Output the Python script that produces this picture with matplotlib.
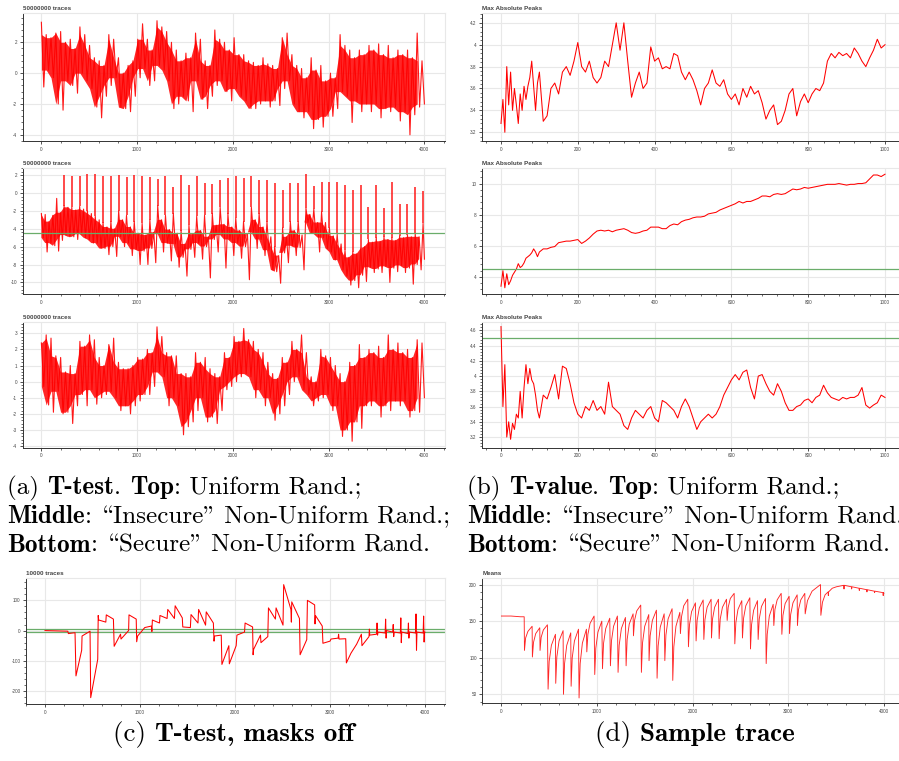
import numpy as np
import matplotlib
matplotlib.use('Agg')
import matplotlib.pyplot as plt
from matplotlib.ticker import MultipleLocator

plt.rcParams['axes.unicode_minus'] = False

# ---------------- data ----------------
# (a) top: zigzag samples (up/down alternating), 160 samples over 0..4000
a_top = [3.3, -0.9, 2.5, 0.2, 2.3, -0.3, 2.6, -2.0, 2.7, -2.4, 2.0, -0.5, 2.2, -0.8, 1.6, -1.3,
         3.0, 0.0, 2.5, -0.5, 1.8, -1.0, 1.0, -2.2, 0.8, -2.9, 0.5, -1.5, 2.5, -0.8, 2.2, -0.3,
         1.0, -2.2, 0.0, -2.3, 0.5, -2.5, 0.8, -1.5, 2.2, -0.3, 3.2, 0.3, 2.2, -0.8, 1.5, -0.5,
         3.4, 0.5, 3.0, 0.2, 2.7, -0.5, 2.0, -2.3, 1.5, -2.0, 0.8, -1.5, 1.3, -1.8, 1.0, -2.5,
         2.6, -0.5, 2.2, -1.7, 0.8, -2.3, 0.5, -1.5, 2.8, -0.8, 2.2, -0.5, 2.0, -1.2, 1.5, -1.8,
         2.3, -1.0, 1.2, -1.5, 1.2, -1.8, 0.8, -2.3, 0.7, -2.3, 0.5, -2.0, 1.0, -1.8, 0.6, -2.2,
         0.5, -1.8, 0.3, -2.1, 2.3, -1.0, 2.6, -0.5, 1.2, -2.0, 0.5, -2.5, 0.3, -2.9, -0.3, -2.5,
         1.0, -3.6, 0.2, -3.0, 0.5, -3.5, -0.5, -2.8, 0.0, -2.8, -0.3, -2.3, 2.5, -1.2, 1.8, -1.5,
         1.5, -3.2, 1.0, -1.8, 1.5, -2.5, 1.2, -2.0, 1.8, -2.5, 1.5, -2.0, 1.9, -2.9, 1.2, -2.3,
         1.8, -2.5, 1.0, -2.2, 1.5, -3.1, 1.2, -2.5, 1.5, -4.0, 1.0, -2.7, 2.6, -2.2, 0.8, -2.0]

# (a) middle: noisy start, spikes, and 4 band samples per spike interval
am_pre = [-2.3, -5.0, -2.4, -6.6, -3.2, -5.6, -2.5, -5.9, -0.6, -6.5, -2.2, -5.3]
am_spike_x = [237, 318, 400, 481, 563, 644, 726, 807, 889, 970, 1052, 1133, 1215, 1296, 1378,
              1459, 1541, 1622, 1704, 1785, 1867, 1948, 2030, 2111, 2193, 2274, 2356, 2437,
              2519, 2600, 2682, 2763, 2845, 2926, 3008, 3089, 3171, 3252, 3334, 3415, 3497,
              3578, 3660, 3741, 3823, 3904, 3986]
am_spike_top = [2.0, 1.85, 1.85, 2.1, 2.1, 1.85, 1.85, 2.0, 1.75, 2.0, 1.85, 1.75, 1.6, 1.85,
                0.65, 2.0, 0.85, 1.95, 1.1, 1.0, 1.5, 1.66, 1.85, 1.66, 1.93, 1.48, 1.48, 1.1,
                0.36, 1.1, 1.1, 2.1, 0.8, 1.18, 1.18, 1.18, 0.92, 0.3, 0.92, -1.6, 0.92, -1.7,
                1.18, -1.25, -1.25, 0.66, 0.25]
am_band = [[-1.4, -4.7, -1.6, -4.9], [-1.6, -4.9, -1.9, -5.2], [-1.5, -4.6, -1.8, -5.0],
           [-2.0, -5.2, -2.3, -5.6], [-2.6, -5.6, -3.0, -6.2], [-3.3, -6.2, -3.8, -6.9],
           [-3.2, -6.0, -4.0, -7.1], [-2.0, -4.9, -3.0, -6.0], [-2.5, -5.6, -3.8, -7.0],
           [-3.2, -6.3, -4.5, -8.0], [-3.4, -6.5, -4.7, -8.0], [-3.0, -6.2, -4.4, -7.8],
           [-1.4, -4.6, -3.0, -6.6], [-2.5, -5.6, -4.1, -7.6], [-2.3, -5.7, -4.5, -8.3],
           [-4.2, -7.2, -5.7, -9.3], [-3.6, -6.3, -4.6, -7.2], [-2.6, -5.6, -4.2, -7.4],
           [-2.5, -6.0, -4.9, -9.5], [-2.3, -5.2, -3.6, -6.6], [-1.6, -4.7, -3.5, -8.4],
           [-2.3, -5.2, -3.8, -7.0], [-2.8, -5.6, -4.2, -7.3], [-3.2, -6.0, -4.6, -9.7],
           [-1.6, -4.4, -3.0, -6.2], [-2.3, -5.2, -3.8, -7.0], [-3.2, -6.4, -4.9, -8.6],
           [-6.0, -8.8, -7.0, -10.1], [-3.9, -6.7, -4.9, -7.8], [-3.2, -5.9, -4.2, -7.0],
           [-3.2, -6.1, -4.7, -8.6], [-1.7, -3.3, -2.4, -4.5], [-1.8, -4.6, -3.3, -6.6],
           [-2.1, -5.0, -3.3, -6.2], [-3.9, -6.6, -4.8, -7.5], [-4.6, -7.5, -5.7, -8.6],
           [-6.4, -9.3, -7.2, -10.3], [-6.6, -9.8, -6.8, -10.6], [-6.2, -9.2, -6.0, -9.9],
           [-5.2, -8.3, -5.5, -8.9], [-5.0, -8.5, -5.4, -8.9], [-4.9, -8.2, -5.2, -10.0],
           [-5.0, -8.4, -5.3, -8.8], [-4.8, -8.1, -5.0, -8.9], [-4.7, -8.4, -4.9, -10.2],
           [-4.5, -8.0, -4.9, -8.6]]
am_tail = [-3.4, -7.4]
am_threshold = -4.5

# (a) bottom
a_bot = [2.4, -0.3, 2.9, -1.45, 2.7, -1.9, 1.6, -0.6, 1.5, -2.0, 0.6, -1.9, 1.0, -2.6, 0.5, -1.5,
         2.5, -0.8, 2.2, -1.5, 2.9, -0.5, 2.6, -1.4, 1.5, -1.0, 1.0, -0.8, 2.3, -0.6, 2.7, -1.0,
         1.2, -1.8, 0.8, -1.5, 0.8, -2.0, 1.0, -1.5, 1.5, -1.2, 1.4, -0.8, 2.0, -0.8, 1.8, -0.3,
         3.4, 0.6, 2.8, 0.3, 1.8, -1.5, 1.6, -1.0, 1.6, -1.5, 0.5, -3.3, 0.5, -2.8, 0.3, -2.5,
         1.8, -1.8, 1.2, -1.0, 1.5, -2.5, 0.8, -2.2, 0.5, -2.6, 0.3, -1.8, 1.8, -0.5, 1.5, -0.3,
         2.8, 0.0, 2.5, 0.3, 3.3, 0.5, 2.6, 0.3, 2.5, -1.0, 2.0, -0.5, 1.8, -1.5, 1.2, -1.0,
         0.5, -2.4, 0.2, -2.0, 1.5, -1.5, 1.2, -0.8, 2.5, 0.0, 2.0, 0.3, 2.9, -0.5, 1.8, -0.8,
         0.3, -1.5, 0.0, -1.2, 2.0, -1.0, 1.6, -0.8, 1.5, -1.8, 1.0, -1.5, 0.5, -3.4, 0.0, -3.0,
         1.2, -3.7, 1.0, -2.5, 2.3, -2.9, 1.5, -1.5, 2.0, -1.5, 1.8, -1.2, 2.2, -2.2, 1.5, -1.5,
         2.9, -1.8, 2.0, -1.2, 2.4, -1.5, 1.8, -1.2, 2.0, -2.2, 1.5, -1.8, 2.6, -1.9, 2.4, -1.0]

# (b) T-value, x: every 5 up to 95, then every 10 up to 1000
b_top = [3.28, 3.5, 3.2, 3.8, 3.45, 3.75, 3.4, 3.6, 3.45, 3.28, 3.55, 3.4, 3.62, 3.5, 3.62, 3.7,
         3.85, 3.62, 3.4, 3.65,
         3.75, 3.3, 3.35, 3.6, 3.65, 3.55, 3.75, 3.8, 3.72, 3.85,
         4.02, 3.8, 3.75, 3.85, 3.7, 3.65, 3.7, 3.85, 3.8, 4.0,
         4.2, 3.95, 4.2, 3.85, 3.52, 3.65, 3.75, 3.6, 3.65, 3.98,
         3.85, 3.88, 3.78, 3.8, 3.78, 3.92, 3.9, 3.75, 3.68, 3.75,
         3.68, 3.58, 3.45, 3.6, 3.65, 3.77, 3.65, 3.62, 3.68, 3.55,
         3.5, 3.55, 3.45, 3.6, 3.52, 3.62, 3.55, 3.58, 3.47, 3.32,
         3.4, 3.45, 3.27, 3.3, 3.4, 3.55, 3.6, 3.35, 3.48, 3.55,
         3.47, 3.55, 3.6, 3.58, 3.65, 3.85, 3.92, 3.88, 3.93, 3.9,
         3.92, 3.88, 3.97, 3.92, 3.85, 3.8, 3.88, 3.95, 4.05, 3.97,
         4.0]
b_mid = [3.4, 4.4, 3.3, 4.2, 3.5, 3.75, 4.1, 4.3, 4.5, 4.85, 4.6, 4.7, 4.9, 5.2, 5.3, 5.4,
         5.55, 5.8, 5.6, 5.3,
         5.6, 5.8, 5.8, 5.9, 5.95, 6.2, 6.25, 6.3, 6.3, 6.35,
         6.4, 6.15, 6.3, 6.5, 6.75, 6.95, 7.0, 6.95, 7.0, 6.9,
         7.0, 7.05, 7.1, 7.0, 6.85, 6.8, 6.85, 6.95, 7.0, 7.2,
         7.2, 7.2, 7.1, 7.1, 7.3, 7.4, 7.35, 7.55, 7.65, 7.7,
         7.8, 7.85, 7.85, 7.9, 8.05, 8.1, 8.15, 8.3, 8.4, 8.5,
         8.6, 8.7, 8.85, 8.75, 8.85, 8.85, 8.95, 9.05, 9.2, 9.2,
         9.15, 9.3, 9.35, 9.3, 9.35, 9.5, 9.65, 9.6, 9.65, 9.75,
         9.7, 9.75, 9.8, 9.85, 9.9, 9.95, 9.95, 9.95, 10.0, 9.95,
         9.9, 9.95, 9.95, 10.0, 10.0, 10.05, 10.3, 10.55, 10.55, 10.45,
         10.6]
b_bot = [4.65, 3.6, 4.15, 3.2, 3.4, 3.17, 3.38, 3.3, 3.5, 3.45, 3.8, 3.45, 3.85, 4.15, 3.9, 4.1,
         3.95, 3.9, 3.75, 3.55,
         3.45, 3.75, 3.7, 3.85, 4.02, 3.7, 4.13, 4.1, 3.9, 3.65,
         3.5, 3.45, 3.6, 3.55, 3.68, 3.55, 3.6, 3.5, 3.92, 3.6,
         3.55, 3.5, 3.35, 3.3, 3.45, 3.55, 3.5, 3.45, 3.55, 3.6,
         3.45, 3.4, 3.68, 3.65, 3.6, 3.55, 3.45, 3.6, 3.7, 3.6,
         3.45, 3.3, 3.4, 3.45, 3.5, 3.45, 3.5, 3.6, 3.75, 3.85,
         3.95, 4.02, 3.95, 4.05, 4.08, 3.85, 3.7, 4.0, 4.02, 3.9,
         3.8, 3.75, 3.9, 3.8, 3.65, 3.55, 3.55, 3.6, 3.62, 3.68,
         3.7, 3.65, 3.72, 3.75, 3.88, 3.78, 3.72, 3.7, 3.68, 3.72,
         3.7, 3.72, 3.72, 3.75, 3.85, 3.62, 3.58, 3.62, 3.65, 3.75,
         3.72]
b_threshold = 4.5

# (c) T-test, masks off: line vertices
c_x = [0, 240, 246, 316, 326, 386, 390, 474, 481, 555, 560, 565, 640, 645, 720, 728, 795, 800,
       880, 884, 960, 965, 975, 1050, 1120, 1125, 1130, 1205, 1210, 1285, 1292, 1362, 1370,
       1445, 1450, 1530, 1537, 1610, 1617, 1690, 1697, 1772, 1779, 1785, 1855, 1862, 1935,
       1940, 2012, 2020, 2100, 2106, 2185, 2190, 2196, 2268, 2273, 2345, 2352, 2425, 2432,
       2505, 2512, 2588, 2593, 2597, 2678, 2685, 2755, 2762, 2838, 2842, 2846, 2918, 2925,
       3000, 3010, 3085, 3090, 3095, 3165, 3172, 3220, 3280, 3330, 3336, 3410, 3414, 3418,
       3490, 3495, 3500, 3505, 3580, 3585, 3590, 3595, 3660, 3665, 3670, 3675, 3740, 3745,
       3750, 3755, 3820, 3825, 3830, 3835, 3900, 3905, 3910, 3915, 3980, 3985, 3990, 3995, 4000]
c_y = [0, -2, -10, -7, -150, -65, -18, -2, -222, -95, 50, 35, 28, 52, 38, -52, -12, -28, 0, 52,
       38, -37, -18, 10, 15, -3, 35, 25, 50, 40, 70, 40, 82, 42, 12, 10, 53, 25, 70, 18,
       62, 25, -35, -18, -15, -112, -50, -110, -50, -15, -5, 25, 12, -80, -62, -15, -40, -20,
       75, 38, 75, 18, 152, 70, 28, 95, 40, -80, -30, 100, 85, 22, 50, 15, -42, -35, -28, -25,
       -12, -28, -27, -107, -75, -45, -12, -50, -20, 5, -15, -12, 25, -15, -5, -8, 38, -25, 0,
       -5, 20, -20, -5, -8, 42, -40, -5, -10, 25, -25, -5, -8, 55, -65, -5, -8, 48, -38, -5, -5]
c_thresholds = [4.5, -4.5]

# (d) Sample trace (means): flat head, sawtooth teeth [drop_x, top_x, low, mid1, mid2, top], tail
d_head_x = [0, 100, 200, 238]
d_head_y = [157, 157, 156, 156]
d_teeth = [
    [241, 321, 110, 127, 136, 143], [324, 401, 101, 121, 133, 141], [404, 481, 110, 128, 138, 145],
    [488, 565, 57, 95, 117, 132], [568, 645, 65, 101, 123, 137], [649, 725, 50, 92, 117, 134],
    [729, 806, 61, 100, 123, 139], [812, 889, 45, 92, 120, 139], [893, 969, 108, 132, 147, 157],
    [976, 1050, 77, 113, 135, 150], [1057, 1133, 85, 120, 140, 154], [1140, 1213, 89, 123, 143, 157],
    [1220, 1297, 80, 117, 140, 155], [1304, 1377, 89, 125, 146, 160], [1381, 1457, 130, 151, 164, 172],
    [1464, 1541, 80, 120, 143, 159], [1544, 1621, 96, 130, 151, 165], [1628, 1702, 72, 116, 142, 160],
    [1709, 1785, 96, 131, 153, 167], [1792, 1866, 69, 115, 143, 162], [1872, 1949, 133, 156, 171, 180],
    [1956, 2029, 115, 145, 163, 175], [2036, 2110, 123, 151, 168, 179], [2117, 2193, 125, 152, 169, 180],
    [2197, 2270, 127, 153, 169, 180], [2277, 2354, 126, 153, 169, 180], [2361, 2434, 151, 169, 181, 188],
    [2441, 2514, 119, 148, 166, 178], [2521, 2598, 127, 154, 171, 182], [2605, 2678, 112, 145, 165, 178],
    [2685, 2762, 125, 153, 170, 181], [2769, 2842, 92, 132, 157, 173], [2849, 2926, 144, 166, 179, 188],
    [2933, 3009, 132, 158, 174, 184], [3013, 3093, 133, 159, 175, 186], [3096, 3173, 144, 166, 179, 188],
    [3177, 3337, 160, 178, 191, 200]]
d_tail_x = [3341, 3358, 3385, 3417, 3419, 3422, 3460, 3504, 3580, 3583, 3586, 3660, 3663, 3666,
            3740, 3743, 3746, 3820, 3823, 3826, 3900, 3903, 3906, 3990, 3993, 3996, 4000]
d_tail_y = [158, 176, 186, 190, 185, 190, 195, 197, 199, 194, 199, 197, 194, 197,
            195, 192, 195, 193, 190, 193, 191, 189, 191, 189, 185, 189, 188]

titles_a = "50000000 traces"
title_b = "Max Absolute Peaks"
title_c = "10000 traces"
title_d = "Means"

# ---------------- figure ----------------
W, H = 899, 761
fig = plt.figure(figsize=(W / 100, H / 100), dpi=100)

RED = '#ff0000'
GREEN = '#6aad6a'
GRID = '#e8e8e8'
AXC = '#333333'
TICKFONT = 'Liberation Sans'


def add_ax(x0, x1, yt, yb):
    return fig.add_axes([x0 / W, 1 - yb / H, (x1 - x0) / W, (yb - yt) / H])


def style(ax, xlim, ylim, xmaj, xmin, ymaj, ymin, title, yfmt=None):
    ax.set_xlim(*xlim)
    ax.set_ylim(*ylim)
    ax.xaxis.set_major_locator(MultipleLocator(xmaj))
    ax.xaxis.set_minor_locator(MultipleLocator(xmin))
    ax.yaxis.set_major_locator(MultipleLocator(ymaj))
    ax.yaxis.set_minor_locator(MultipleLocator(ymin))
    if yfmt is not None:
        ax.yaxis.set_major_formatter(yfmt)
    ax.grid(True, which='major', color=GRID, lw=0.8)
    ax.set_axisbelow(True)
    for s in ['top', 'right']:
        ax.spines[s].set_color(GRID)
        ax.spines[s].set_linewidth(0.8)
    for s in ['left', 'bottom']:
        ax.spines[s].set_color(AXC)
        ax.spines[s].set_linewidth(0.7)
    ax.tick_params(which='major', length=2.2, width=0.6, color=AXC, labelsize=3.3,
                   labelcolor='#444444', pad=1.8)
    ax.tick_params(which='minor', length=1.3, width=0.5, color=AXC)
    for lab in ax.get_xticklabels() + ax.get_yticklabels():
        lab.set_fontfamily(TICKFONT)
    bb = ax.get_position()
    fig.text(bb.x0, bb.y1 + 4.6 / H, title, fontsize=4.5, fontweight='bold',
             color='#444444', family=TICKFONT, va='center', ha='left')


def fmt_trim(v, pos):
    s = ('%.1f' % v)
    if s.endswith('.0'):
        s = s[:-2]
    return s


def dense_trace(ax, xs, ys):
    """Draw an alternating up/down sample sequence: core where strokes overlap,
    plus the thin zigzag strokes that give the spikes."""
    xs = np.asarray(xs, float)
    ys = np.asarray(ys, float)
    up_x, ups = xs[0::2], ys[0::2]
    dn = ys[1::2]
    n = min(len(ups), len(dn)) - 1
    hi = np.minimum(ups[:n], ups[1:n + 1])
    lo = np.maximum(dn[:n], dn[1:n + 1])
    ax.fill_between(up_x[:n], lo, hi, where=hi > lo, color=RED, alpha=0.85, lw=0,
                    interpolate=True)
    ax.plot(xs, ys, color=RED, lw=0.8, alpha=0.9)


AL, AR = 22.7, 445
BL, BR = 481.8, 904.2
rows = [(13, 141), (168, 294), (322, 447.7)]
AXL = (-195, 4215)

# (a) top
ax = add_ax(AL, AR, *rows[0])
dense_trace(ax, np.linspace(0, 4000, len(a_top)), a_top)
style(ax, AXL, (-4.4, 3.9), 1000, 200, 2, 0.4, titles_a)

# (a) middle
ax = add_ax(AL, AR, *rows[1])
xs, ys = list(np.arange(len(am_pre)) * 20.0), list(am_pre)
for k in range(len(am_band)):
    x0, x1 = am_spike_x[k], am_spike_x[k + 1]
    for j, v in enumerate(am_band[k]):
        xs.append(x0 + (x1 - x0) * j / 4.0)
        ys.append(v)
xs += [am_spike_x[-1], 4000]
ys += am_tail
dense_trace(ax, xs, ys)
bases = [row[0] for row in am_band] + [am_tail[0]]
for sx, b0, st in zip(am_spike_x, bases, am_spike_top):
    ax.plot([sx, sx], [b0, st], color=RED, lw=1.1, alpha=0.9, solid_capstyle='butt')
ax.axhline(am_threshold, color=GREEN, lw=0.9)
style(ax, AXL, (-11.3, 2.8), 1000, 200, 2, 0.4, titles_a)

# (a) bottom
ax = add_ax(AL, AR, *rows[2])
dense_trace(ax, np.linspace(0, 4000, len(a_bot)), a_bot)
style(ax, AXL, (-4.1, 3.7), 1000, 200, 1, 0.2, titles_a)

# (b)
bx = np.r_[np.arange(0, 100, 5), np.arange(100, 1001, 10)]
BXL = (-50, 1050)
ax = add_ax(BL, BR, *rows[0])
ax.plot(bx, b_top, color=RED, lw=0.75)
style(ax, BXL, (3.12, 4.29), 200, 40, 0.2, 0.04, title_b, fmt_trim)

ax = add_ax(BL, BR, *rows[1])
ax.plot(bx, b_mid, color=RED, lw=0.75)
ax.axhline(b_threshold, color=GREEN, lw=0.9)
style(ax, BXL, (2.9, 11.0), 200, 40, 2, 0.4, title_b)

ax = add_ax(BL, BR, *rows[2])
ax.plot(bx, b_bot, color=RED, lw=0.75)
ax.axhline(b_threshold, color=GREEN, lw=0.9)
style(ax, BXL, (3.06, 4.71), 200, 40, 0.2, 0.04, title_b, fmt_trim)

# (c)
ax = add_ax(26, 445, 578, 704)
for t in c_thresholds:
    ax.axhline(t, color=GREEN, lw=0.9)
ax.plot(c_x, c_y, color=RED, lw=0.75)
style(ax, (-200, 4210), (-243, 174), 1000, 200, 100, 20, title_c)

# (d)
dx, dy = list(d_head_x), list(d_head_y)
for xd, xt, lo, m1, m2, top in d_teeth:
    w = xt - xd
    dx += [xd, xd + 0.15 * w, xd + 0.45 * w, xt]
    dy += [lo, m1, m2, top]
dx += d_tail_x
dy += d_tail_y
ax = add_ax(482.3, 903, 578, 703.3)
ax.plot(dx, dy, color=RED, lw=0.65, alpha=0.85)
style(ax, (-200, 4200), (37.7, 209), 1000, 200, 50, 10, title_d)

# ---------------- captions ----------------
renderer = fig.canvas.get_renderer()
LQ, RQ = '\\', '"'   # TeX OT1 slots of the curly quotes in cmr10


def fam(bold):
    return ['cmb10' if bold else 'cmr10', 'DejaVu Serif']


def width_of(s, bold, size):
    t1 = fig.text(0, 0, s + 'x', fontsize=size, family=fam(bold))
    t2 = fig.text(0, 0, 'x', fontsize=size, family=fam(bold))
    w = t1.get_window_extent(renderer).width - t2.get_window_extent(renderer).width
    t1.remove()
    t2.remove()
    return w


def rich(xp, yp, parts, ha='left', size=18.1):
    ws = [width_of(s, b, size) for s, b in parts]
    xcur = xp if ha == 'left' else xp - sum(ws) / 2
    for (s, b), w in zip(parts, ws):
        fig.text(xcur / W, 1 - yp / H, s, fontsize=size, family=fam(b),
                 va='baseline', ha='left', color='black')
        xcur += w


rich(7, 494, [("(a) ", False), ("T-test", True), (". ", False), ("Top", True),
              (": Uniform Rand.;", False)])
rich(7, 523, [("Middle", True), (": " + LQ + "Insecure" + RQ + " Non-Uniform Rand.;", False)])
rich(7, 552, [("Bottom", True), (": " + LQ + "Secure" + RQ + " Non-Uniform Rand.", False)])
rich(467, 494, [("(b) ", False), ("T-value", True), (". ", False), ("Top", True),
                (": Uniform Rand.;", False)])
rich(467, 523, [("Middle", True), (": " + LQ + "Insecure" + RQ + " Non-Uniform Rand.", False)])
rich(467, 552, [("Bottom", True), (": " + LQ + "Secure" + RQ + " Non-Uniform Rand.", False)])
rich(233, 741, [("(c) ", False), ("T-test, masks off", True)], ha='center', size=19.5)
rich(695, 741, [("(d) ", False), ("Sample trace", True)], ha='center', size=19.5)

fig.savefig('out.png', dpi=100)
